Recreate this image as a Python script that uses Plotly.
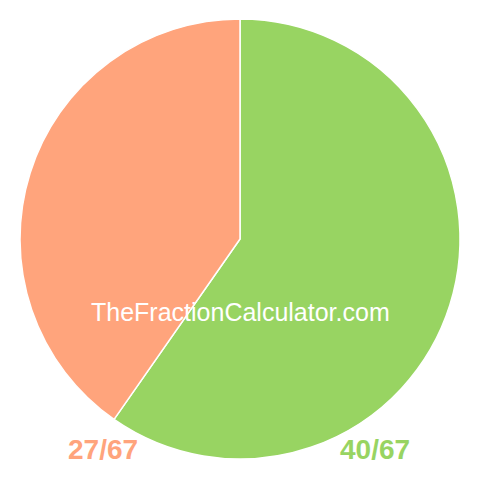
import plotly.graph_objects as go

labels = ["40/67", "27/67"]
values = [40, 27]
colors = ["#98D462", "#FFA47C"]
watermark = "TheFractionCalculator.com"

# the page body has an 8px margin, so positions below are shifted by -8px
fig = go.Figure()
fig.add_trace(go.Pie(
    labels=labels,
    values=values,
    sort=False,
    direction="clockwise",
    rotation=0,
    textinfo="none",
    hoverinfo="label",
    marker=dict(colors=colors, line=dict(color="white", width=1.5)),
    domain=dict(x=[12 / 480, 452 / 480], y=[29 / 480, 469 / 480]),
    showlegend=False,
))

# fraction labels under the pie, coloured like their slice
label_x = {"27/67": 95 / 480, "40/67": 367 / 480}
for lab, col in zip(labels, colors):
    fig.add_annotation(
        text="<b>" + lab + "</b>", x=label_x[lab], y=1 - 441 / 480,
        xref="paper", yref="paper", xanchor="center", yanchor="middle",
        showarrow=False,
        font=dict(family="Liberation Sans, Arial, sans-serif", size=28, color=col),
    )

fig.add_annotation(
    text=watermark, x=232 / 480, y=1 - 304 / 480, xref="paper", yref="paper",
    xanchor="center", yanchor="middle", showarrow=False,
    font=dict(family="Liberation Sans, Arial, sans-serif", size=25, color="white"),
)

fig.update_layout(
    width=480, height=480,
    margin=dict(l=0, r=0, t=0, b=0),
    paper_bgcolor="white",
    plot_bgcolor="white",
)

fig.write_html("out.html")
